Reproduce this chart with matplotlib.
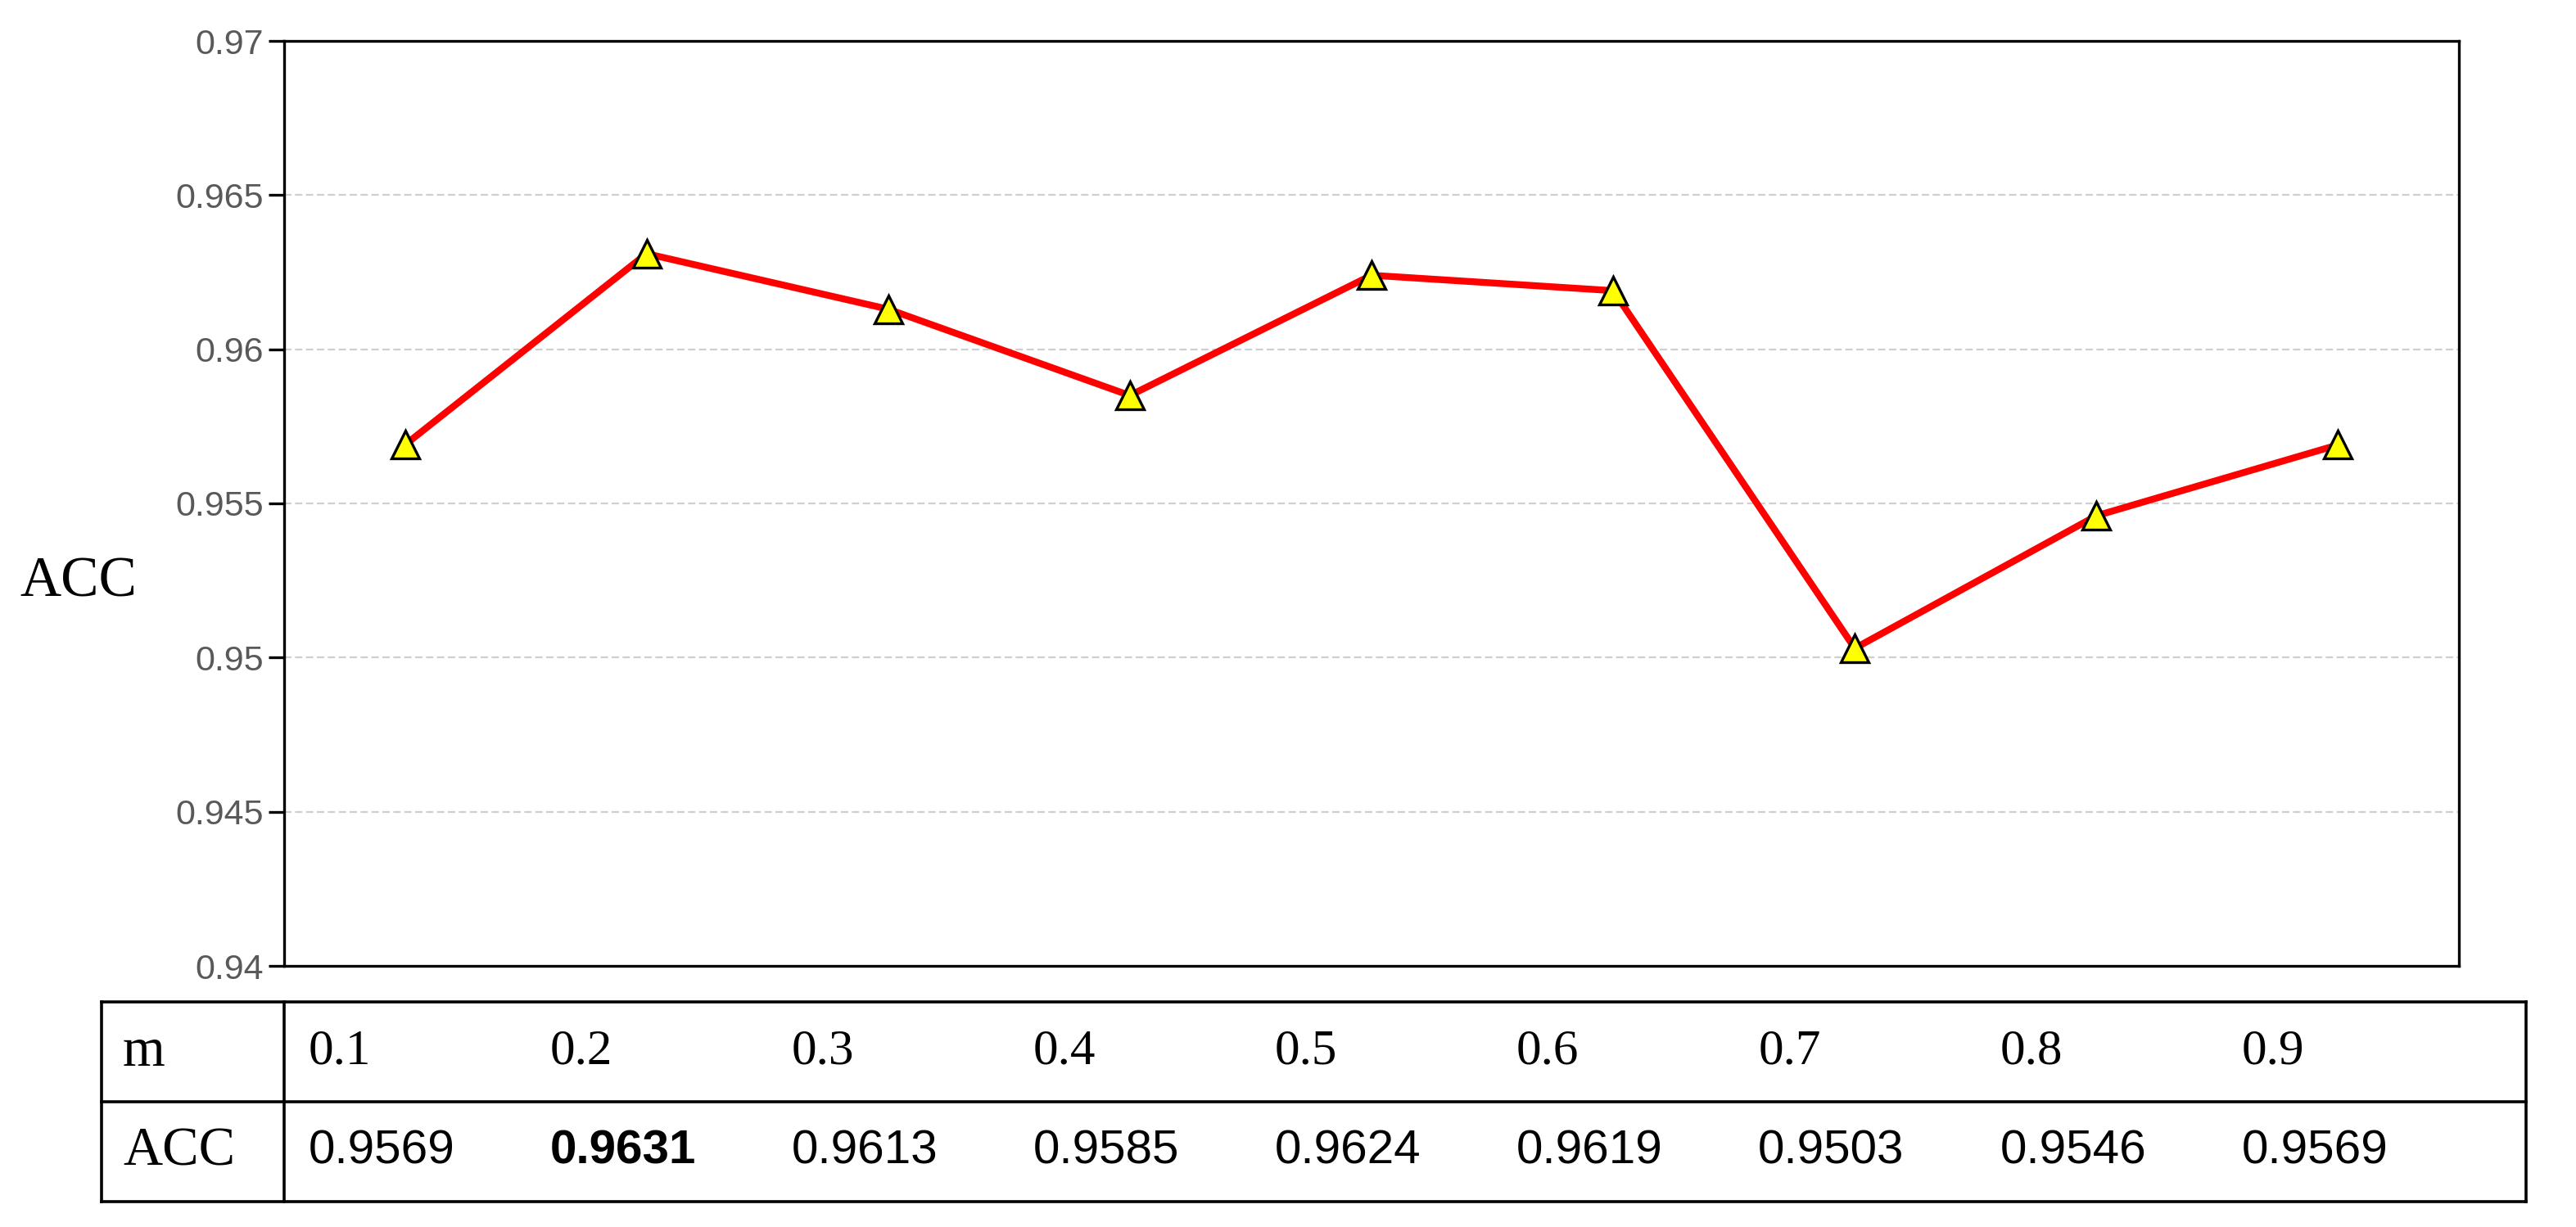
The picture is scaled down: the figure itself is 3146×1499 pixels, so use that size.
import matplotlib
matplotlib.use("Agg")
import matplotlib.pyplot as plt
from matplotlib.transforms import blended_transform_factory
from matplotlib.lines import Line2D

# ---- data ----
m_values = ["0.1", "0.2", "0.3", "0.4", "0.5", "0.6", "0.7", "0.8", "0.9"]
acc_values = [0.9569, 0.9631, 0.9613, 0.9585, 0.9624, 0.9619, 0.9503, 0.9546, 0.9569]
y_ticks = [0.94, 0.945, 0.95, 0.955, 0.96, 0.965, 0.97]
y_tick_labels = ["0.94", "0.945", "0.95", "0.955", "0.96", "0.965", "0.97"]

W, H = 3146, 1499
DPI = 100
fig = plt.figure(figsize=(W / DPI, H / DPI), dpi=DPI)

def fx(px):
    return px / W

def fy(py):
    return 1 - py / H

# main axes
ax_l, ax_r, ax_t, ax_b = 347, 3003, 50, 1180
ax = fig.add_axes([fx(ax_l), fy(ax_b), fx(ax_r) - fx(ax_l), fy(ax_t) - fy(ax_b)])

x = list(range(len(m_values)))
ax.plot(x, acc_values, color="#ff0000", lw=6, zorder=3,
        marker="^", markersize=25, markerfacecolor="#ffff00",
        markeredgecolor="black", markeredgewidth=2.4)

ax.set_xlim(-0.5, len(m_values) - 0.5)
ax.set_ylim(0.94, 0.97)
ax.set_yticks(y_ticks)
ax.set_yticklabels(y_tick_labels, family="Liberation Sans", fontsize=31, color="#595959")
ax.tick_params(axis="y", direction="out", length=14, width=2.4, color="black", pad=4)
ax.set_xticks([])
for s in ax.spines.values():
    s.set_linewidth(2.4)
    s.set_color("black")

for yv in y_ticks[1:-1]:
    ax.axhline(yv, color="#cfcfcf", lw=1.6, ls=(0, (4, 2)), zorder=1)

ax.set_ylabel("ACC", rotation=0, family="Liberation Serif", fontsize=50, color="black",
              ha="center", va="center")
ax.yaxis.set_label_coords((96 - ax_l) / (ax_r - ax_l), (ax_b - 712) / (ax_b - ax_t))

# ---- table below ----
t_left, t_div, t_right = 124, 347, 3085
t_top, t_mid, t_bot = 1224, 1346, 1468
lw_t = 2.6
def hline(py, x0, x1):
    fig.add_artist(Line2D([fx(x0), fx(x1)], [fy(py), fy(py)], color="black", lw=lw_t,
                          solid_capstyle="projecting"))
def vline(px, y0, y1):
    fig.add_artist(Line2D([fx(px), fx(px)], [fy(y0), fy(y1)], color="black", lw=lw_t,
                          solid_capstyle="projecting"))

hline(t_top, t_left, t_right)
hline(t_mid, t_left, t_right)
hline(t_bot, t_left, t_right)
vline(t_left, t_top, t_bot)
vline(t_div, t_top, t_bot)
vline(t_right, t_top, t_bot)

row1_y = fy((t_top + t_mid) / 2)
row2_y = fy((t_mid + t_bot) / 2)

fig.text(fx(150), row1_y, "m", family="Liberation Serif", fontsize=48, ha="left", va="center")
fig.text(fx(150), row2_y, "ACC", family="Liberation Serif", fontsize=48, ha="left", va="center")

trans = blended_transform_factory(ax.transData, fig.transFigure)
best = max(acc_values)
for i, (mv, av) in enumerate(zip(m_values, acc_values)):
    fig.text(i - 0.4, row1_y, mv, transform=trans, family="Liberation Serif",
             fontsize=44, ha="left", va="center")
    fig.text(i - 0.4, row2_y, f"{av:.4f}", transform=trans, family="Liberation Sans",
             fontsize=42, ha="left", va="center",
             fontweight="bold" if av == best else "normal")

fig.savefig("out.png", dpi=DPI, facecolor="white")
